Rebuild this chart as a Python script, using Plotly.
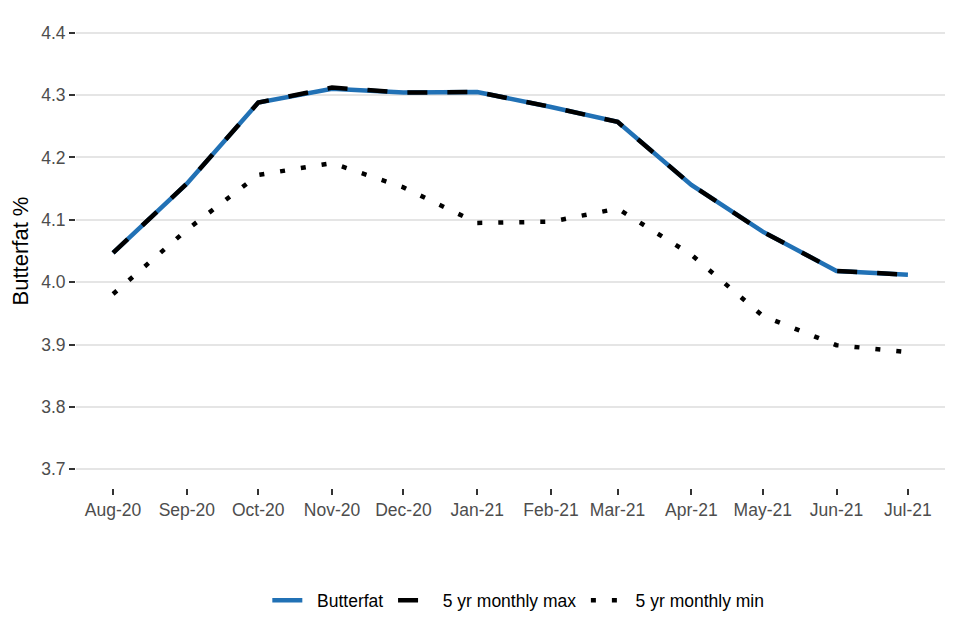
import plotly.graph_objects as go

months = ["2020-08-01", "2020-09-01", "2020-10-01", "2020-11-01", "2020-12-01", "2021-01-01",
          "2021-02-01", "2021-03-01", "2021-04-01", "2021-05-01", "2021-06-01", "2021-07-01"]
butterfat = [4.047, 4.158, 4.288, 4.310, 4.304, 4.305, 4.281, 4.257, 4.156, 4.081, 4.018, 4.012]
max_5yr = [4.047, 4.158, 4.288, 4.312, 4.304, 4.305, 4.281, 4.257, 4.156, 4.081, 4.018, 4.012]
min_5yr = [3.981, 4.084, 4.172, 4.191, 4.152, 4.095, 4.097, 4.118, 4.044, 3.946, 3.899, 3.888]
y_ticks = [3.7, 3.8, 3.9, 4.0, 4.1, 4.2, 4.3, 4.4]

FONT = "Liberation Sans, Arial, sans-serif"
NB = "\u00a0"

fig = go.Figure()
fig.add_trace(go.Scatter(x=months, y=butterfat, mode="lines", name=NB * 2 + "Butterfat" + NB,
                         line=dict(color="#2171b5", width=4.5)))
fig.add_trace(go.Scatter(x=months, y=max_5yr, mode="lines", name=NB * 2 + "5 yr monthly max" + NB,
                         line=dict(color="black", width=4.5, dash="20px,20px")))
fig.add_trace(go.Scatter(x=months, y=min_5yr, mode="lines", name=NB * 2 + "5 yr monthly min",
                         line=dict(color="black", width=4.5, dash="5px,16px")))

fig.update_layout(
    width=960, height=640,
    margin=dict(l=68, r=23, t=6.3, b=160.3, autoexpand=False),
    paper_bgcolor="white", plot_bgcolor="white",
    font=dict(family=FONT, size=17, color="black"),
    showlegend=True,
    legend=dict(orientation="h", x=0.509, xanchor="center", y=-0.237, yanchor="middle",
                font=dict(size=17.5, color="black"), traceorder="normal"),
    xaxis=dict(
        type="date", automargin=False,
        range=["2020-07-16 10:00", "2021-07-16 14:00"],
        tick0="2020-08-01", dtick="M1", tickformat="%b-%y",
        showgrid=False, zeroline=False, showline=False,
        ticks="outside", ticklen=6, tickwidth=1.5, tickcolor="#333333",
        tickfont=dict(size=17.5, color="#4d4d4d", family=FONT),
    ),
    yaxis=dict(
        range=[3.67, 4.43], automargin=False,
        tickvals=y_ticks, ticktext=[f"{v:.1f}" for v in y_ticks],
        showgrid=True, gridcolor="#e5e5e5", gridwidth=1.8,
        zeroline=False, showline=False,
        ticks="outside", ticklen=6, tickwidth=1.5, tickcolor="#333333",
        tickfont=dict(size=17.5, color="#4d4d4d", family=FONT),
        title=dict(text="Butterfat %", font=dict(size=22, color="black", family=FONT), standoff=8),
    ),
)

fig.write_html("out.html")
